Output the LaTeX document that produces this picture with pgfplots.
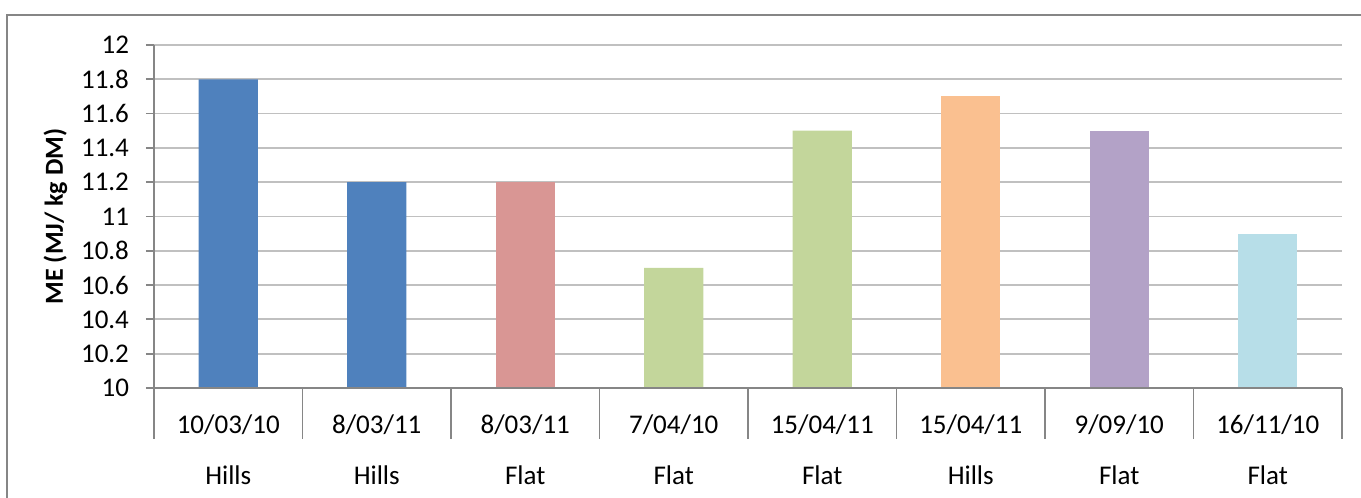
\documentclass[border=0pt]{standalone}
\usepackage{pgfplots}
\pgfplotsset{compat=1.18}
\usepackage{fontspec}
\setmainfont{Carlito}
\definecolor{axisgray}{HTML}{868686}
\definecolor{gridgray}{HTML}{C0C0C0}
\definecolor{barblue}{HTML}{4F81BD}
\definecolor{barred}{HTML}{D99694}
\definecolor{bargreen}{HTML}{C3D69B}
\definecolor{barorange}{HTML}{FAC090}
\definecolor{barpurple}{HTML}{B3A2C7}
\definecolor{barcyan}{HTML}{B7DEE8}
\pgfplotsset{
  chartbox/.style={
    at={(77pt,55pt)}, anchor=south west,
    scale only axis, width=594pt, height=171.5pt,
    xmin=-0.5, xmax=7.5, ymin=10, ymax=12,
    every tick label/.append style={font=\fontsize{13.5}{16.2}\selectfont, text=black},
    clip=false,
  }
}
\begin{document}
\begin{tikzpicture}
\useasboundingbox (0,0) rectangle (680.5pt,249pt);
% chart-area frame
\draw[axisgray, line width=1pt] (3.6pt,-2pt) -- (3.6pt,241.5pt) -- (682pt,241.5pt);
% value axis, gridlines and bars
\begin{axis}[
  chartbox,
  ytick={10,10.2,...,12.01},
  yticklabels={10,10.2,10.4,10.6,10.8,11,11.2,11.4,11.6,11.8,12},
  ymajorgrids, grid style={gridgray, line width=0.9pt},
  axis lines*=left,
  axis line style={axisgray, line width=0.9pt, -},
  tick style={axisgray, line width=0.9pt},
  tick align=outside,
  major tick length=4pt,
  xtick=\empty,
  /pgf/number format/assume math mode=true,
  yticklabel style={xshift=-5pt},
  ylabel={\textbf{ME (MJ/ kg DM)}},
  every axis y label/.style={at={(ticklabel cs:0.5)}, rotate=90, anchor=south,
    font=\fontsize{13}{15.6}\selectfont, yshift=0pt},
]
\addplot[ybar, bar width=0.4, bar shift=0pt, fill=barblue, draw=none] coordinates {(0,11.8) (1,11.2)};
\addplot[ybar, bar width=0.4, bar shift=0pt, fill=barred, draw=none] coordinates {(2,11.2)};
\addplot[ybar, bar width=0.4, bar shift=0pt, fill=bargreen, draw=none] coordinates {(3,10.7) (4,11.5)};
\addplot[ybar, bar width=0.4, bar shift=0pt, fill=barorange, draw=none] coordinates {(5,11.7)};
\addplot[ybar, bar width=0.4, bar shift=0pt, fill=barpurple, draw=none] coordinates {(6,11.5)};
\addplot[ybar, bar width=0.4, bar shift=0pt, fill=barcyan, draw=none] coordinates {(7,10.9)};
\end{axis}
% category axis: separators and two-row labels
\begin{axis}[
  chartbox,
  axis x line*=bottom, axis y line=none,
  axis line style={axisgray, line width=0.9pt, -},
  ytick=\empty,
  xtick={-0.5,0.5,...,7.6},
  xticklabels={},
  tick style={axisgray, line width=0.9pt},
  tick align=outside,
  major tick length=25.5pt,
  extra x ticks={0,1,2,3,4,5,6,7},
  extra x tick style={major tick length=0pt, tick style={draw=none},
    xticklabel style={align=center, anchor=north, yshift=-9.6pt}},
  extra x tick labels={
    {10/03/10\\[9.3pt]Hills},{8/03/11\\[9.3pt]Hills},
    {8/03/11\\[9.3pt]Flat},{7/04/10\\[9.3pt]Flat},
    {15/04/11\\[9.3pt]Flat},{15/04/11\\[9.3pt]Hills},
    {9/09/10\\[9.3pt]Flat},{16/11/10\\[9.3pt]Flat}},
]
\end{axis}
\end{tikzpicture}
\end{document}
